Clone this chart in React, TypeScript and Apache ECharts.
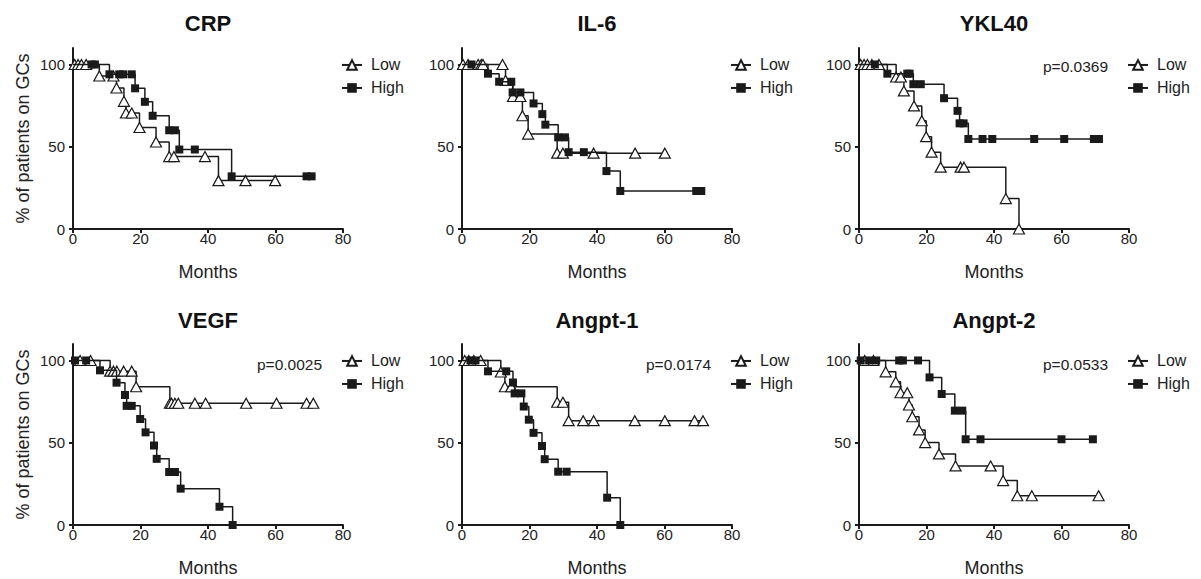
import React, { useEffect, useRef } from "react";
import * as echarts from "echarts";

const panelTitles = ["CRP", "IL-6", "YKL40", "VEGF", "Angpt-1", "Angpt-2"];
const pValues = ["", "", "p=0.0369", "p=0.0025", "p=0.0174", "p=0.0533"];
const groupNames = ["Low", "High"];
const xTickValues = [0, 20, 40, 60, 80];
const yTickValues = [0, 50, 100];

const crpLow = [[0.5,100],[1.5,100],[2.5,100],[3.9,100],[7.8,93],[12,93],[12.9,85.7],[15.1,77.6],[15.7,70.5],[17.4,70.5],[19.7,61.7],[24.6,52.9],[28.5,44],[29.9,44],[39.1,44],[43.1,29.4],[51.1,29.4],[59.9,29.4]];
const crpHigh = [[5.5,100],[6.5,100],[10.8,94],[13.7,94],[14.9,94],[17.4,94],[18.4,85.5],[21.3,77.3],[23.6,68.8],[28.5,60],[30.2,60],[31.5,48.3],[36.1,48.3],[47,32],[69.2,32],[70.7,32]];

const il6Low = [[0.3,100],[1.8,100],[4.8,100],[5.7,100],[6.2,100],[12,100],[12.9,90.3],[15.1,80.5],[17.3,80.5],[17.9,68.8],[19.6,57.7],[28.2,46.1],[29.9,46.1],[39,46.1],[51.3,46.1],[60.1,46.1]];
const il6High = [[2.8,100],[7.7,94.4],[11,89.5],[14.6,89.5],[15,83],[17.3,83],[21.2,76.3],[23.8,69.8],[24.7,63.4],[28.5,55.7],[30.5,55.7],[31.6,46.7],[36.1,46.7],[42.8,35.2],[46.9,23.1],[69.4,23.1],[70.9,23.1]];

const ykl40Low = [[0.5,100],[1.5,100],[2.5,100],[3.8,100],[5.9,100],[11,92.4],[12.4,92.4],[13.3,83.9],[16.3,74.8],[18.6,65.8],[19.9,56.1],[21.5,46.7],[24.2,37.6],[30.1,37.6],[31.1,37.6],[43.5,18.5],[47.4,0]];
const ykl40High = [[4.7,100],[8.4,94.4],[14.3,94.4],[15,94.4],[16.1,88],[18.3,88],[25.2,79.5],[29.2,71.8],[29.8,64.2],[31,64.2],[32.4,54.7],[36.6,54.7],[39.5,54.7],[51.9,54.7],[60.8,54.7],[69.6,54.7],[71.1,54.7]];

const vegfLow = [[2.1,100],[5.2,100],[11,93.5],[12,93.5],[13,93.5],[15,93.5],[17.4,93.5],[18.7,84],[28.7,74],[29.2,74],[30.2,74],[31.2,74],[36.1,74],[39.3,74],[51.3,74],[60.3,74],[69.2,74],[71.2,74]];
const vegfHigh = [[0.6,100],[3.9,100],[8,94],[12.9,86.5],[15.4,79],[15.9,72.4],[17.4,72.4],[19.9,64.4],[21.5,56.3],[24,48.3],[24.8,40.2],[28.5,32.2],[30.2,32.2],[31.9,22.1],[43.4,11.1],[47.3,0]];

const angpt1Low = [[0.8,100],[2,100],[3.5,100],[5.5,100],[11.5,93],[12.7,84],[14.6,84],[28.2,74.6],[29.9,74.6],[31.6,63.4],[35.9,63.4],[39,63.4],[51.2,63.4],[60.1,63.4],[68.9,63.4],[71.4,63.4]];
const angpt1High = [[2.5,100],[4,100],[7.7,93.4],[13.1,93.4],[15.1,86.6],[15.6,80],[17.6,80],[18.3,72],[19.8,64],[21.2,56],[23.7,48],[24.5,40],[28.5,32.4],[31,32.4],[43,16.6],[46.9,0]];

const angpt2Low = [[1.7,100],[4.3,100],[7.9,93.1],[10.9,87],[12.3,80.4],[14.3,80.4],[14.8,72.9],[15.8,65.8],[17.8,57.8],[19.6,50.1],[23.7,43.2],[28.6,35.9],[39,35.9],[42.7,27],[46.9,17.8],[51.2,17.8],[71,17.8]];
const angpt2High = [[0.5,100],[3,100],[5.1,100],[11.9,100],[13,100],[17.5,100],[20.9,89.7],[24.5,79.6],[28.4,69.5],[30.6,69.5],[31.6,52.1],[36,52.1],[60,52.1],[69.3,52.1]];

const lowGroups = [crpLow, il6Low, ykl40Low, vegfLow, angpt1Low, angpt2Low];
const highGroups = [crpHigh, il6High, ykl40High, vegfHigh, angpt1High, angpt2High];

const FONT = "'Liberation Sans', Arial, sans-serif";
const INK = "#1a1a1a";
const colLeft = [73, 462, 859];
const rowTop = [48, 344];
const gridW = 270;
const gridH = 181;

function withOrigin(points: number[][]) {
  return [{ value: [0, 100], symbol: "none" }, ...points.map((p) => ({ value: p }))];
}

export default function App() {
  const ref = useRef<HTMLDivElement>(null);
  useEffect(() => {
    if (!ref.current) return;
    const chart = echarts.init(ref.current, undefined, { renderer: "svg" });
    const grids: any[] = [];
    const xAxes: any[] = [];
    const yAxes: any[] = [];
    const series: any[] = [];
    const legends: any[] = [];
    const graphics: any[] = [];
    panelTitles.forEach((title, i) => {
      const col = i % 3;
      const row = Math.floor(i / 3);
      const left = colLeft[col];
      const top = rowTop[row];
      const y100 = top + gridH * (10 / 110);
      grids.push({ left, top, width: gridW, height: gridH });
      xAxes.push({
        gridIndex: i,
        type: "value",
        min: 0,
        max: 80,
        interval: 20,
        name: "Months",
        nameLocation: "middle",
        nameGap: 34,
        nameTextStyle: { fontSize: 18, color: "#222", fontFamily: FONT },
        axisLine: { show: true, lineStyle: { color: INK, width: 2 } },
        axisTick: { show: true, length: 4, lineStyle: { color: INK, width: 2 }, customValues: xTickValues },
        axisLabel: { fontSize: 15, color: "#222", margin: 2, fontFamily: FONT, customValues: xTickValues },
        splitLine: { show: false },
      });
      yAxes.push({
        gridIndex: i,
        type: "value",
        min: 0,
        max: 110,
        interval: 50,
        name: col === 0 ? "% of patients on GCs" : "",
        nameLocation: "middle",
        nameGap: 41,
        nameRotate: 90,
        nameTextStyle: { fontSize: 18, color: "#222", fontFamily: FONT },
        axisLine: { show: true, lineStyle: { color: INK, width: 2 } },
        axisTick: { show: true, length: 4, lineStyle: { color: INK, width: 2 }, customValues: yTickValues },
        axisLabel: { fontSize: 15, color: "#222", margin: 8, fontFamily: FONT, customValues: yTickValues },
        splitLine: { show: false },
      });
      series.push({
        type: "line",
        name: groupNames[0],
        xAxisIndex: i,
        yAxisIndex: i,
        step: "end",
        data: withOrigin(lowGroups[i]),
        symbol: "triangle",
        symbolSize: [11, 10],
        color: INK,
        itemStyle: { color: "#fff", borderColor: INK, borderWidth: 1.2 },
        lineStyle: { color: INK, width: 1.5 },
        z: 3,
      });
      series.push({
        type: "line",
        name: groupNames[1],
        xAxisIndex: i,
        yAxisIndex: i,
        step: "end",
        data: withOrigin(highGroups[i]),
        symbol: "rect",
        symbolSize: 8,
        color: INK,
        itemStyle: { color: INK, borderColor: INK, borderWidth: 0 },
        lineStyle: { color: INK, width: 1.5 },
        z: 4,
      });
      legends.push({
        data: groupNames,
        orient: "vertical",
        left: left + 268,
        top: y100 - 7.5,
        padding: 0,
        itemWidth: 20,
        itemHeight: 12,
        itemGap: 7,
        selectedMode: false,
        textStyle: { fontSize: 16, color: "#222", fontFamily: FONT, padding: [0, 0, 0, 4] },
      });
      graphics.push({
        type: "text",
        x: left + gridW / 2,
        y: row === 0 ? 23 : 320,
        style: {
          text: title,
          font: `bold 22px ${FONT}`,
          fill: "#111",
          align: "center",
          verticalAlign: "middle",
          textAlign: "center",
          textVerticalAlign: "middle",
        },
      });
      if (pValues[i]) {
        graphics.push({
          type: "text",
          x: left + 184,
          y: y100 + (row === 0 ? 2.5 : 4.5),
          style: {
            text: pValues[i],
            font: `15.5px ${FONT}`,
            fill: "#222",
            align: "left",
            verticalAlign: "middle",
            textAlign: "left",
            textVerticalAlign: "middle",
          },
        });
      }
    });
    chart.setOption({
      animation: false,
      backgroundColor: "#fff",
      textStyle: { fontFamily: FONT },
      grid: grids,
      xAxis: xAxes,
      yAxis: yAxes,
      series,
      legend: legends,
      graphic: graphics,
    });
    return () => chart.dispose();
  }, []);
  return (
    <div
      ref={ref}
      style={{ position: "fixed", left: 0, top: 0, width: 1201, height: 579, background: "#fff" }}
    />
  );
}
